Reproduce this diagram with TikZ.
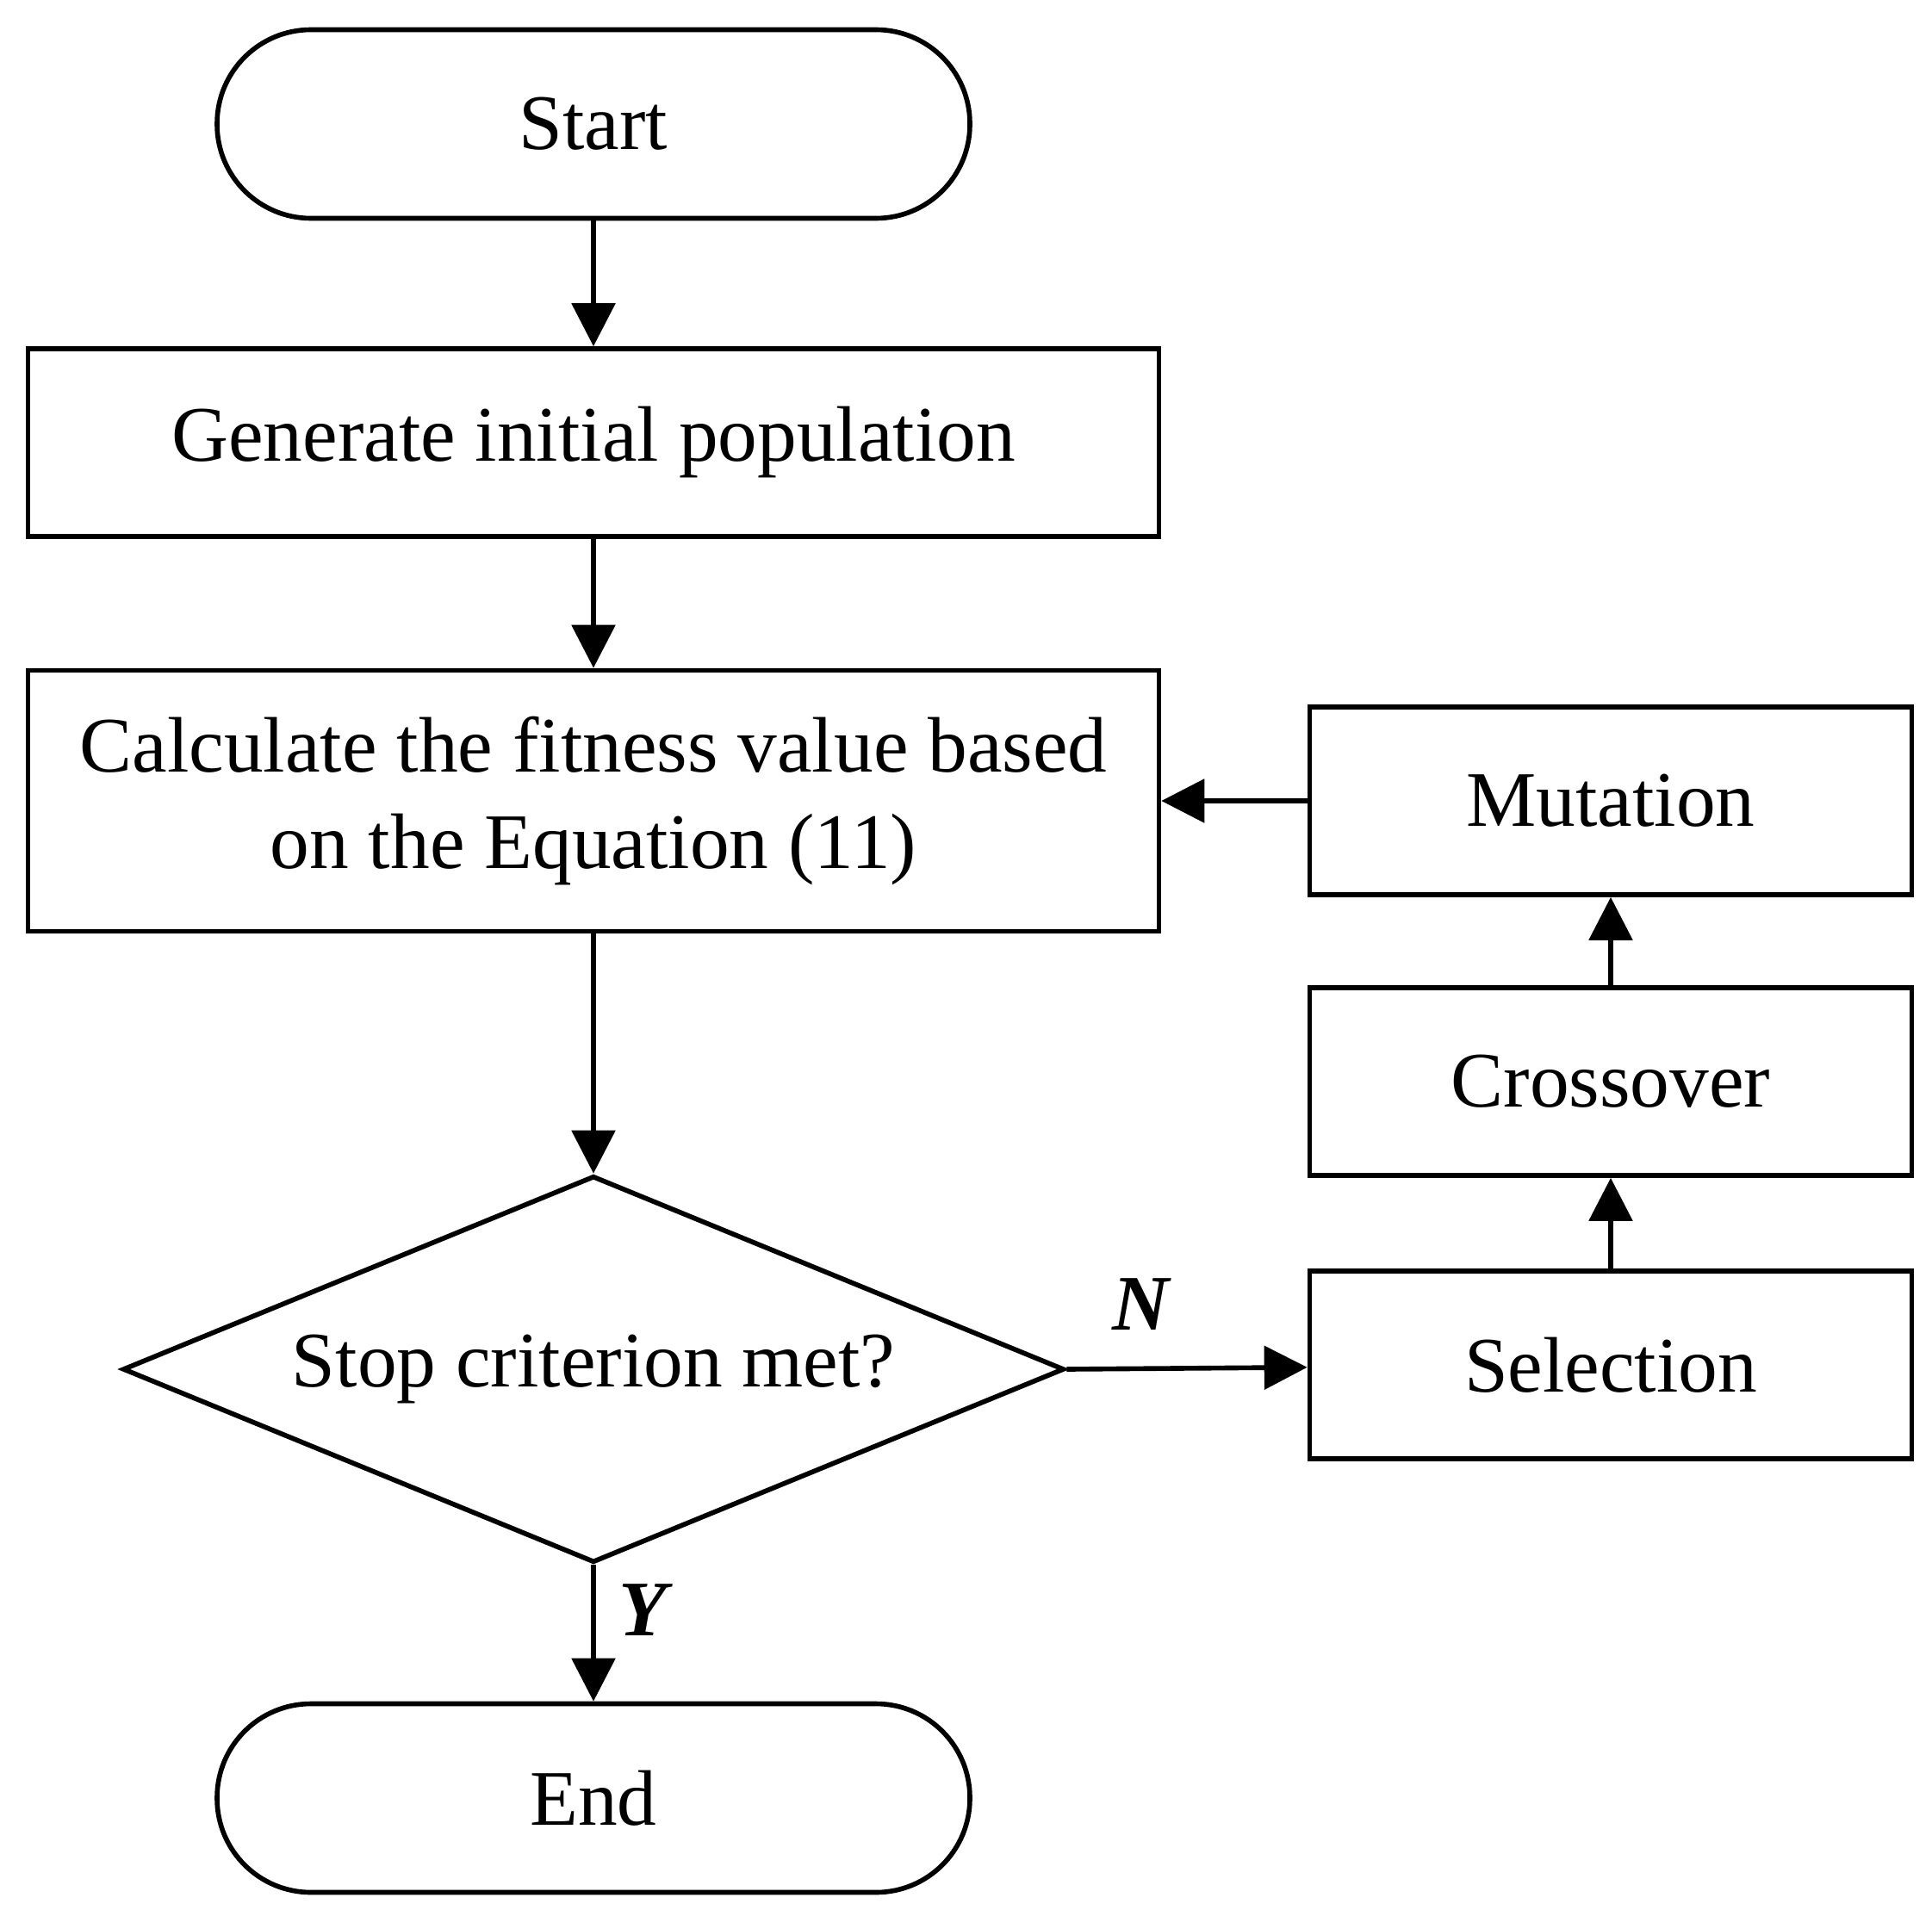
\documentclass[tikz,border=0pt]{standalone}
\usepackage{fontspec}
\setmainfont{Liberation Serif}
\usetikzlibrary{arrows.meta,positioning,shapes.geometric}

\begin{document}
\begin{tikzpicture}[font=\fontsize{26}{32}\selectfont, line width=1.6pt,
    >={Triangle[length=0.5cm,width=0.5cm]}]
    \tikzset{block/.style= {draw, rectangle
    , minimum height=2.18cm
    , align=center
      }
    , term/.style= {draw, rectangle
    , rounded corners=1.09cm
    , minimum width=8.74cm
    , minimum height=2.19cm
      }
    , decide/.style= {draw, diamond
    , aspect=2.43
    , inner sep=0pt
    , minimum width=10.93cm
    , minimum height=4.49cm
      }
    , lbl/.style= {font=\fontsize{26}{32}\selectfont\bfseries\itshape}
    }

\useasboundingbox (0,0) rectangle (22.43,-22.17);

\node [term] (start) at (6.89,-1.44) {Start};
\node [block, minimum width=13.13cm, below of=start, node distance=3.70cm] (gen) {Generate initial population};
\node [block, minimum width=13.13cm, minimum height=3.03cm, below of=gen, node distance=4.16cm] (calc) {Calculate the fitness value based\\on the Equation (11)};
\node [decide, below of=calc, node distance=6.60cm] (stop) {Stop criterion met?};
\node [term, below of=stop, node distance=4.98cm] (finish) {End};

\node [block, minimum width=6.99cm, right of=calc, node distance=11.81cm] (mut) {Mutation};
\node [block, minimum width=6.99cm, below of=mut, node distance=3.26cm] (cross) {Crossover};
\node [block, minimum width=6.99cm, below of=cross, node distance=3.29cm] (sel) {Selection};

 \path[draw, ->]
  (start) -- (gen);
 \path[draw, ->]
  (gen) -- (calc);
 \path[draw, ->]
  (calc) -- (stop);
 \path[draw, ->]
  (stop) -- node[lbl, pos=0.33, right, xshift=0.15cm] {Y} (finish);
 \path[draw, ->]
  (stop.east) -- node[lbl, pos=0.31, above, yshift=0.3cm] {N} (sel);
 \path[draw, ->]
  (sel) -- (cross);
 \path[draw, ->]
  (cross) -- (mut);
 \path[draw, ->]
  (mut) -- (calc);
\end{tikzpicture}
\end{document}
